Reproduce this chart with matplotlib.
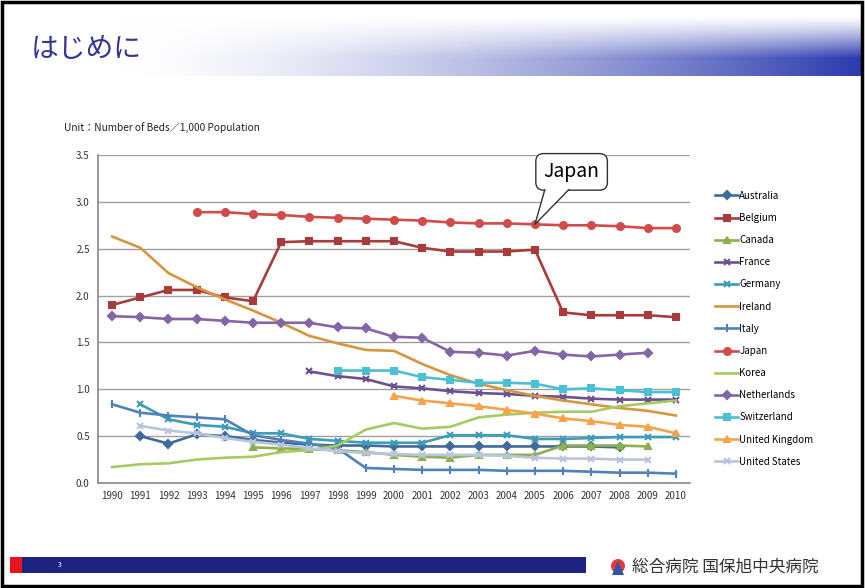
import matplotlib.pyplot as plt
import matplotlib.patches as mpatches
import numpy as np

plt.rcParams['font.family'] = ['Noto Sans CJK JP', 'DejaVu Sans']

# --- data (beds per 1,000 population) ---
years = list(range(1990, 2011))

australia = [None, 0.50, 0.42, 0.52, 0.50, 0.46, 0.43, 0.41, 0.40, 0.40, 0.39, 0.39, 0.39, 0.39, 0.39, 0.39, 0.39, 0.39, 0.38, None, None]
belgium = [1.90, 1.98, 2.06, 2.06, 1.98, 1.94, 2.57, 2.58, 2.58, 2.58, 2.58, 2.51, 2.47, 2.47, 2.47, 2.49, 1.82, 1.79, 1.79, 1.79, 1.77]
canada = [None, None, None, None, None, 0.38, 0.37, 0.36, 0.35, 0.33, 0.30, 0.28, 0.27, 0.30, 0.30, 0.30, 0.40, 0.40, 0.40, 0.39, None]
france = [None, None, None, None, None, None, None, 1.19, 1.14, 1.11, 1.03, 1.01, 0.98, 0.96, 0.95, 0.93, 0.92, 0.90, 0.89, 0.89, 0.89]
germany = [None, 0.84, 0.68, 0.62, 0.60, 0.53, 0.53, 0.47, 0.45, 0.43, 0.43, 0.43, 0.51, 0.51, 0.51, 0.47, 0.47, 0.48, 0.49, 0.49, 0.49]
ireland = [2.63, 2.51, 2.24, 2.09, 1.96, 1.84, 1.71, 1.57, 1.49, 1.42, 1.41, 1.27, 1.15, 1.06, 0.99, 0.93, 0.88, 0.84, 0.80, 0.77, 0.72]
italy = [0.84, 0.75, 0.72, 0.70, 0.68, 0.51, 0.46, 0.42, 0.37, 0.16, 0.15, 0.14, 0.14, 0.14, 0.13, 0.13, 0.13, 0.12, 0.11, 0.11, 0.10]
japan = [None, None, None, 2.89, 2.89, 2.87, 2.86, 2.84, 2.83, 2.82, 2.81, 2.80, 2.78, 2.77, 2.77, 2.76, 2.75, 2.75, 2.74, 2.72, 2.72]
korea = [0.17, 0.20, 0.21, 0.25, 0.27, 0.28, 0.33, 0.35, 0.40, 0.57, 0.64, 0.58, 0.60, 0.70, 0.73, 0.75, 0.76, 0.76, 0.82, 0.85, 0.88]
netherlands = [1.78, 1.77, 1.75, 1.75, 1.73, 1.71, 1.71, 1.71, 1.66, 1.65, 1.56, 1.55, 1.40, 1.39, 1.36, 1.41, 1.37, 1.35, 1.37, 1.39, None]
switzerland = [None, None, None, None, None, None, None, None, 1.20, 1.20, 1.20, 1.13, 1.10, 1.07, 1.07, 1.06, 1.00, 1.01, 0.99, 0.97, 0.97]
uk = [None, None, None, None, None, None, None, None, None, None, 0.93, 0.88, 0.85, 0.82, 0.78, 0.74, 0.69, 0.66, 0.62, 0.60, 0.53]
usa = [None, 0.61, 0.56, 0.53, 0.48, 0.44, 0.41, 0.37, 0.34, 0.32, 0.31, 0.30, 0.30, 0.30, 0.29, 0.27, 0.26, 0.26, 0.25, 0.25, None]

series = [
    ("Australia", australia, "#3F6B9C", "D", 4),
    ("Belgium", belgium, "#A83C3C", "s", 5),
    ("Canada", canada, "#8DB04C", "^", 5),
    ("France", france, "#6C5190", "x", 5),
    ("Germany", germany, "#3C9DB6", "x", 5),
    ("Ireland", ireland, "#D7953F", "", 0),
    ("Italy", italy, "#4F81BD", "|", 6),
    ("Japan", japan, "#D24B4B", "o", 5),
    ("Korea", korea, "#A6CB5E", "", 0),
    ("Netherlands", netherlands, "#8466A6", "D", 4),
    ("Switzerland", switzerland, "#4BC0D4", "s", 5),
    ("United Kingdom", uk, "#F7A24C", "^", 5),
    ("United States", usa, "#B9C5DE", "x", 5),
]

W, H = 865, 588
fig = plt.figure(figsize=(W / 100, H / 100), dpi=100)

# --- slide background: header gradient, frame, footer ---
bg = fig.add_axes([0, 0, 1, 1])
bg.set_xlim(0, W)
bg.set_ylim(H, 0)
bg.axis("off")
gx = np.linspace(0, 1, 400)
gy = np.linspace(0, 1, 60)
hx = np.clip((gx - 0.12) / 0.88, 0, 1) ** 1.5
vy = np.clip(gy / 0.7, 0, 1) ** 1.2
inten = vy[:, None] * hx[None, :]
img = np.ones((60, 400, 3))
img[:, :, 0] = 1 - inten * (1 - 0.17)
img[:, :, 1] = 1 - inten * (1 - 0.23)
img[:, :, 2] = 1 - inten * (1 - 0.68)
bg.imshow(img, extent=(20, 862, 76, 16), aspect="auto", zorder=0)
bg.add_patch(mpatches.Rectangle((2, 2), W - 5, H - 4, fill=False, ec="black", lw=2.5))
bg.text(31, 49, "はじめに", fontsize=20, color="#353597", va="center", ha="left",
        family=["Noto Sans CJK JP", "DejaVu Sans"])
bg.add_patch(mpatches.Rectangle((10, 557), 12, 16, fc="#E8141E", ec="none"))
bg.add_patch(mpatches.Rectangle((22, 557), 564, 16, fc="#1C2380", ec="none"))
bg.text(58, 565, "3", fontsize=5, color="white", va="center")
bg.add_patch(mpatches.Circle((618, 566), 7, fc="#E23B3B", ec="none"))
bg.add_patch(mpatches.Polygon([(612, 575), (618, 561), (624, 575)], fc="#2D55A8", ec="none"))
bg.text(632, 567, "総合病院 国保旭中央病院", fontsize=12, color="#333333", va="center",
        family=["Noto Sans CJK JP", "DejaVu Sans"])
bg.text(64, 128, "Unit\uff1aNumber of Beds\uff0f1,000 Population", fontsize=7.3, color="#222222", va="center")

# --- chart ---
ax = fig.add_axes([98 / W, 1 - 483 / H, 592 / W, 328 / H])
x = np.arange(len(years))
for name, vals, color, marker, ms in series:
    y = np.array([np.nan if v is None else v for v in vals], dtype=float)
    ax.plot(x, y, color=color, lw=1.9, marker=marker if marker else None,
            ms=ms, mew=1.5, label=name)

ax.set_xlim(-0.5, len(years) - 0.5)
ax.set_ylim(0, 3.5)
ax.set_yticks(np.arange(0, 3.51, 0.5))
ax.set_yticklabels([f"{v:.1f}" for v in np.arange(0, 3.51, 0.5)])
ax.set_xticks(x)
ax.set_xticklabels([str(yy) for yy in years])
ax.tick_params(axis="both", labelsize=7, colors="#333333", length=0, pad=6)
ax.yaxis.grid(True, color="#A0A0A0", lw=1)
ax.set_axisbelow(True)
for s in ["top", "right"]:
    ax.spines[s].set_visible(False)
ax.spines["left"].set_color("#888888")
ax.spines["bottom"].set_color("#888888")
ax.spines["left"].set_linewidth(1.2)
ax.spines["bottom"].set_linewidth(1.2)

ax.legend(loc="upper left", bbox_to_anchor=(710 / W, 1 - 186 / H), bbox_transform=fig.transFigure,
          frameon=False, fontsize=7, labelspacing=1.25, handlelength=2.4, handletextpad=0.1,
          borderpad=0)

# Japan callout
ax.text(16.3, 3.32, "Japan", fontsize=14, ha="center", va="center", zorder=5,
        bbox=dict(boxstyle="round,pad=0.4", fc="white", ec="#333333", lw=1))
tip = (15, japan[15])
base_l, base_r, base_y = 15.35, 16.2, 3.13
ax.fill([base_l, tip[0], base_r, base_r, base_l], [base_y, tip[1], base_y, base_y + 0.03, base_y + 0.03],
        color="white", zorder=6, lw=0)
ax.plot([base_l, tip[0], base_r], [base_y, tip[1], base_y], color="#333333", lw=1, zorder=7)

fig.savefig("out.png", dpi=100)
